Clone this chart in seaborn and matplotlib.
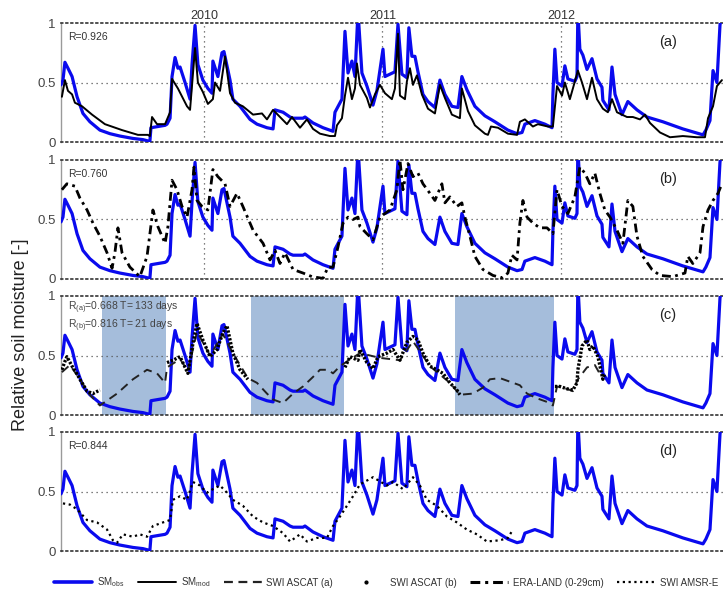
import numpy as np
import pandas as pd
import matplotlib
matplotlib.use("Agg")
import matplotlib.pyplot as plt
from matplotlib.lines import Line2D
import seaborn as sns

sns.set_theme(style="white")
plt.rcParams["font.family"] = ["Liberation Sans", "DejaVu Sans"]

# ---------------------------------------------------------------- data
years = [2010, 2011, 2012]

# observed relative soil moisture (decimal year, value)
t_obs = [2009.199, 2009.210, 2009.221, 2009.238, 2009.261, 2009.289, 2009.322, 2009.361, 2009.417, 2009.473,
         2009.529, 2009.602, 2009.658, 2009.697, 2009.703, 2009.742, 2009.782, 2009.793, 2009.810, 2009.821,
         2009.838, 2009.854, 2009.866, 2009.894, 2009.922, 2009.933, 2009.950, 2009.966, 2009.994, 2010.022,
         2010.045, 2010.050, 2010.078, 2010.101, 2010.112, 2010.146, 2010.162, 2010.202, 2010.258, 2010.297,
         2010.353, 2010.387, 2010.398, 2010.443, 2010.482, 2010.499, 2010.555, 2010.566, 2010.611, 2010.667,
         2010.723, 2010.734, 2010.773, 2010.790, 2010.807, 2010.829, 2010.846, 2010.863, 2010.885, 2010.913,
         2010.947, 2010.969, 2011.003, 2011.014, 2011.042, 2011.070, 2011.087, 2011.109, 2011.137, 2011.148,
         2011.165, 2011.182, 2011.199, 2011.227, 2011.255, 2011.294, 2011.322, 2011.350, 2011.389, 2011.423,
         2011.445, 2011.473, 2011.518, 2011.574, 2011.630, 2011.703, 2011.754, 2011.782, 2011.798, 2011.854,
         2011.910, 2011.950, 2011.955, 2011.966, 2011.978, 2012.006, 2012.022, 2012.039, 2012.078, 2012.090,
         2012.095, 2012.106, 2012.123, 2012.146, 2012.174, 2012.202, 2012.230, 2012.235, 2012.269, 2012.286,
         2012.303, 2012.342, 2012.375, 2012.426, 2012.482, 2012.571, 2012.683, 2012.796, 2012.812, 2012.835,
         2012.852, 2012.874, 2012.891, 2012.902]
sm_obs = [0.48, 0.52, 0.67, 0.62, 0.55, 0.38, 0.24, 0.17, 0.10, 0.07,
          0.05, 0.03, 0.02, 0.005, 0.12, 0.13, 0.14, 0.15, 0.20, 0.55,
          0.71, 0.62, 0.63, 0.50, 0.36, 0.65, 0.98, 0.65, 0.52, 0.45,
          0.41, 0.68, 0.55, 0.75, 0.76, 0.52, 0.36, 0.30, 0.19, 0.15,
          0.12, 0.11, 0.27, 0.25, 0.21, 0.20, 0.20, 0.21, 0.16, 0.12,
          0.09, 0.25, 0.36, 0.93, 0.58, 0.68, 0.55, 1.10, 0.58, 0.47,
          0.31, 0.43, 0.78, 0.55, 0.57, 0.59, 0.99, 0.57, 0.54, 0.96,
          0.72, 0.72, 0.59, 0.40, 0.34, 0.29, 0.52, 0.40, 0.30, 0.29,
          0.55, 0.44, 0.30, 0.22, 0.17, 0.10, 0.07, 0.08, 0.15, 0.18,
          0.15, 0.12, 0.40, 0.78, 0.50, 0.47, 0.64, 0.53, 0.51, 0.55,
          1.10, 0.78, 0.73, 0.61, 0.70, 0.53, 0.46, 0.35, 0.27, 0.63,
          0.40, 0.23, 0.34, 0.27, 0.21, 0.17, 0.11, 0.06, 0.10, 0.18,
          0.60, 0.50, 0.98, 1.10]

# modelled soil moisture
t_mod = [2009.204, 2009.221, 2009.238, 2009.261, 2009.277, 2009.317, 2009.373, 2009.445, 2009.541, 2009.630,
         2009.686, 2009.697, 2009.709, 2009.737, 2009.782, 2009.810, 2009.821, 2009.854, 2009.905, 2009.922,
         2009.950, 2009.966, 2009.994, 2010.022, 2010.050, 2010.062, 2010.090, 2010.118, 2010.146, 2010.174,
         2010.218, 2010.275, 2010.325, 2010.353, 2010.387, 2010.426, 2010.465, 2010.493, 2010.538, 2010.577,
         2010.611, 2010.650, 2010.706, 2010.734, 2010.745, 2010.773, 2010.790, 2010.807, 2010.829, 2010.846,
         2010.857, 2010.874, 2010.913, 2010.930, 2010.958, 2010.986, 2011.014, 2011.053, 2011.070, 2011.087,
         2011.098, 2011.126, 2011.137, 2011.154, 2011.171, 2011.193, 2011.221, 2011.255, 2011.294, 2011.322,
         2011.350, 2011.389, 2011.434, 2011.445, 2011.479, 2011.518, 2011.574, 2011.591, 2011.608, 2011.647,
         2011.703, 2011.754, 2011.770, 2011.798, 2011.843, 2011.871, 2011.927, 2011.955, 2011.978, 2012.006,
         2012.022, 2012.050, 2012.067, 2012.095, 2012.118, 2012.146, 2012.174, 2012.202, 2012.235, 2012.263,
         2012.286, 2012.314, 2012.370, 2012.403, 2012.443, 2012.471, 2012.499, 2012.555, 2012.611, 2012.683,
         2012.762, 2012.807, 2012.824, 2012.852, 2012.874, 2012.902]
sm_mod = [0.38, 0.52, 0.43, 0.40, 0.33, 0.30, 0.23, 0.15, 0.10, 0.06,
          0.06, 0.05, 0.21, 0.15, 0.15, 0.25, 0.53, 0.45, 0.30, 0.27,
          0.79, 0.50, 0.42, 0.32, 0.36, 0.50, 0.43, 0.72, 0.41, 0.33,
          0.30, 0.23, 0.24, 0.19, 0.27, 0.21, 0.15, 0.21, 0.12, 0.19,
          0.11, 0.07, 0.05, 0.05, 0.14, 0.20, 0.39, 0.54, 0.36, 0.45,
          0.66, 0.48, 0.37, 0.29, 0.40, 0.48, 0.41, 0.36, 0.45, 0.91,
          0.39, 0.36, 0.51, 0.62, 0.48, 0.56, 0.40, 0.28, 0.24, 0.48,
          0.37, 0.23, 0.20, 0.45, 0.26, 0.14, 0.07, 0.06, 0.13, 0.12,
          0.07, 0.06, 0.17, 0.19, 0.13, 0.15, 0.13, 0.13, 0.47, 0.39,
          0.50, 0.36, 0.45, 0.60, 0.50, 0.36, 0.54, 0.36, 0.28, 0.25,
          0.36, 0.25, 0.21, 0.21, 0.19, 0.23, 0.16, 0.08, 0.04, 0.05,
          0.04, 0.04, 0.20, 0.30, 0.47, 0.52]

# ERA-LAND top layer (0-29 cm)
t_era = [2009.204, 2009.232, 2009.277, 2009.305, 2009.345, 2009.378, 2009.417, 2009.457, 2009.485, 2009.501,
         2009.518, 2009.541, 2009.585, 2009.641, 2009.681, 2009.714, 2009.742, 2009.782, 2009.798, 2009.821,
         2009.849, 2009.877, 2009.905, 2009.933, 2009.944, 2009.961, 2009.989, 2010.022, 2010.050, 2010.078,
         2010.118, 2010.146, 2010.185, 2010.218, 2010.275, 2010.331, 2010.370, 2010.398, 2010.426, 2010.454,
         2010.499, 2010.555, 2010.605, 2010.667, 2010.695, 2010.723, 2010.751, 2010.779, 2010.807, 2010.835,
         2010.863, 2010.874, 2010.913, 2010.947, 2010.986, 2011.042, 2011.081, 2011.098, 2011.115, 2011.143,
         2011.171, 2011.199, 2011.227, 2011.266, 2011.294, 2011.333, 2011.350, 2011.378, 2011.417, 2011.445,
         2011.462, 2011.490, 2011.518, 2011.563, 2011.619, 2011.669, 2011.703, 2011.725, 2011.754, 2011.770,
         2011.787, 2011.810, 2011.843, 2011.882, 2011.922, 2011.955, 2011.978, 2012.006, 2012.039, 2012.078,
         2012.106, 2012.134, 2012.162, 2012.190, 2012.218, 2012.246, 2012.275, 2012.314, 2012.347, 2012.375,
         2012.403, 2012.426, 2012.459, 2012.510, 2012.555, 2012.627, 2012.695, 2012.711, 2012.739, 2012.779,
         2012.796, 2012.824, 2012.852, 2012.880, 2012.902]
sm_era = [0.75, 0.80, 0.78, 0.68, 0.58, 0.47, 0.36, 0.22, 0.09, 0.22,
          0.43, 0.22, 0.10, 0.02, 0.19, 0.58, 0.44, 0.30, 0.44, 0.83,
          0.75, 0.61, 0.52, 0.75, 0.94, 0.66, 0.61, 0.58, 0.92, 0.86,
          0.80, 0.61, 0.72, 0.61, 0.41, 0.30, 0.16, 0.24, 0.13, 0.22,
          0.08, 0.05, 0.02, 0.005, 0.10, 0.10, 0.27, 0.47, 0.52, 0.50,
          0.52, 0.44, 0.38, 0.33, 0.52, 0.58, 0.75, 1.00, 0.75, 0.97,
          0.86, 0.89, 0.80, 0.72, 0.66, 0.80, 0.64, 0.69, 0.61, 0.64,
          0.52, 0.36, 0.19, 0.08, 0.03, 0.01, 0.05, 0.20, 0.16, 0.47,
          0.66, 0.52, 0.47, 0.43, 0.43, 0.38, 0.75, 0.61, 0.55, 0.69,
          0.94, 0.89, 0.80, 0.89, 0.72, 0.58, 0.52, 0.41, 0.30, 0.66,
          0.61, 0.36, 0.19, 0.08, 0.03, 0.02, 0.05, 0.19, 0.13, 0.22,
          0.44, 0.58, 0.66, 0.72, 0.80]

# ASCAT soil water index, T = 133 days
t_ascat_a = [2009.204, 2009.249, 2009.305, 2009.361, 2009.417, 2009.513, 2009.602, 2009.681, 2009.737, 2009.782,
             2009.793, 2009.866, 2009.910, 2009.961, 2010.034, 2010.106, 2010.162, 2010.246, 2010.297, 2010.353,
             2010.387, 2010.443, 2010.499, 2010.555, 2010.611, 2010.650, 2010.695, 2010.723, 2010.762, 2010.801,
             2010.874, 2010.986, 2011.098, 2011.171, 2011.266, 2011.378, 2011.434, 2011.507, 2011.563, 2011.602,
             2011.658, 2011.714, 2011.770, 2011.810, 2011.866, 2011.922, 2011.955, 2011.978, 2012.034, 2012.067,
             2012.095, 2012.146, 2012.190, 2012.235]
swi_ascat_a = [0.36, 0.42, 0.30, 0.17, 0.08, 0.18, 0.30, 0.38, 0.35, 0.27,
               0.40, 0.47, 0.37, 0.70, 0.50, 0.68, 0.52, 0.31, 0.27, 0.18,
               0.13, 0.10, 0.18, 0.24, 0.32, 0.38, 0.38, 0.35, 0.41, 0.45,
               0.52, 0.48, 0.46, 0.62, 0.41, 0.27, 0.17, 0.18, 0.23, 0.30,
               0.31, 0.28, 0.25, 0.18, 0.14, 0.11, 0.08, 0.24, 0.22, 0.20,
               0.30, 0.40, 0.42, 0.30]

# ASCAT soil water index, T = 21 days (None = no retrieval)
t_ascat_b = [2009.204, 2009.221, 2009.232, 2009.261, 2009.283, 2009.305, 2009.345, 2009.378, 2009.417, None,
             2009.793, 2009.826, 2009.866, 2009.910, 2009.938, 2009.961, 2009.994, 2010.034, 2010.073, 2010.106,
             2010.129, 2010.162, 2010.202, 2010.246, None,
             2010.790, 2010.818, 2010.863, 2010.874, 2010.913, 2010.947, 2010.975, 2011.025, 2011.059, 2011.098,
             2011.137, 2011.171, 2011.199, 2011.227, 2011.266, 2011.305, 2011.339, 2011.378, 2011.417, 2011.434,
             None,
             2011.966, 2011.994, 2012.034, 2012.067, 2012.090, 2012.095, 2012.118, 2012.146, 2012.162, 2012.179,
             2012.207, 2012.235, 2012.246]
swi_ascat_b = [0.38, 0.45, 0.49, 0.41, 0.36, 0.30, 0.20, 0.18, 0.21, None,
               0.44, 0.46, 0.49, 0.35, 0.60, 0.77, 0.63, 0.49, 0.55, 0.69,
               0.75, 0.52, 0.38, 0.30, None,
               0.40, 0.49, 0.46, 0.55, 0.44, 0.39, 0.49, 0.52, 0.55, 0.46,
               0.61, 0.66, 0.63, 0.52, 0.41, 0.38, 0.35, 0.27, 0.21, 0.17,
               None,
               0.24, 0.24, 0.22, 0.21, 0.27, 0.38, 0.58, 0.63, 0.55, 0.58,
               0.49, 0.30, 0.35]

# AMSR-E soil water index
t_amsr = [2009.210, 2009.249, 2009.289, 2009.345, 2009.401, 2009.457, 2009.490, 2009.513, 2009.546, 2009.602,
          2009.641, 2009.681, 2009.714, 2009.770, 2009.810, 2009.826, 2009.866, 2009.905, 2009.938, 2009.978,
          2010.017, 2010.050, 2010.090, 2010.129, 2010.162, 2010.218, 2010.275, 2010.331, 2010.387, 2010.443,
          2010.482, 2010.538, 2010.577, 2010.633, 2010.689, 2010.723, 2010.762, 2010.801, 2010.835, 2010.874,
          2010.947, 2011.025, 2011.059, 2011.115, 2011.171, 2011.210, 2011.249, 2011.305, 2011.361, 2011.417,
          2011.473, 2011.529, 2011.585, 2011.658, 2011.703, 2011.731]
swi_amsr = [0.40, 0.39, 0.35, 0.26, 0.24, 0.18, 0.09, 0.07, 0.14, 0.12,
            0.14, 0.12, 0.21, 0.24, 0.26, 0.43, 0.46, 0.43, 0.58, 0.55,
            0.49, 0.52, 0.55, 0.49, 0.43, 0.38, 0.29, 0.24, 0.21, 0.15,
            0.08, 0.14, 0.08, 0.11, 0.11, 0.21, 0.29, 0.38, 0.46, 0.56,
            0.62, 0.55, 0.58, 0.52, 0.62, 0.55, 0.43, 0.38, 0.29, 0.24,
            0.18, 0.14, 0.08, 0.09, 0.11, 0.18]

# periods highlighted in panel (c)
gap_start = [2009.429, 2010.263, 2011.406]
gap_end = [2009.787, 2010.784, 2011.961]

r_text = ["R=0.926", "R=0.760", None, "R=0.844"]
panel_tags = ["(a)", "(b)", "(c)", "(d)"]

# ---------------------------------------------------------------- styles
BLUE = "#0a0aee"
ERA_DASH = (0, (3.2, 1.6, 1.0, 1.6))
ASCAT_A_DASH = (0, (4.5, 3.0))
ASCAT_B_DASH = (0, (0.7, 0.5))
AMSR_DOT = (0, (1.0, 1.6))
GRID = "#555555"

fig = plt.figure(figsize=(7.23, 5.89), dpi=100)
left, width, height = 61 / 723, 662 / 723, 119 / 589
bottoms = [1 - 142 / 589, 1 - 279 / 589, 1 - 415 / 589, 1 - 551 / 589]
axes = [fig.add_axes([left, b, width, height]) for b in bottoms]
ax_a, ax_b, ax_c, ax_d = axes


def draw(ax, t, v, **kw):
    df = pd.DataFrame({"t": pd.to_numeric(pd.Series(t), errors="coerce"),
                       "v": pd.to_numeric(pd.Series(v), errors="coerce")})
    df["seg"] = df["v"].isna().cumsum()
    df = df.dropna()
    sns.lineplot(data=df, x="t", y="v", units="seg", estimator=None,
                 sort=False, ax=ax, **kw)


# (a) observed vs modelled
draw(ax_a, t_obs, sm_obs, color=BLUE, lw=2.3, zorder=3)
draw(ax_a, t_mod, sm_mod, color="black", lw=1.4, zorder=4)

# (b) observed vs ERA-LAND
draw(ax_b, t_obs, sm_obs, color=BLUE, lw=2.3, zorder=3)
draw(ax_b, t_era, sm_era, color="black", lw=2.0, linestyle=ERA_DASH, zorder=4)

# (c) observed vs ASCAT SWI
for s0, s1 in zip(gap_start, gap_end):
    ax_c.axvspan(s0, s1, color="#a5bddb", lw=0, zorder=0)
draw(ax_c, t_obs, sm_obs, color=BLUE, lw=2.3, zorder=3)
draw(ax_c, t_ascat_a, swi_ascat_a, color="#222222", lw=1.4, linestyle=ASCAT_A_DASH, zorder=4)
draw(ax_c, t_ascat_b, swi_ascat_b, color="black", lw=2.4, linestyle=ASCAT_B_DASH, zorder=5)
ax_c.text(0.011, 0.90, r"R$_\mathregular{(a)}$=0.668 T= 133 days", transform=ax_c.transAxes,
          ha="left", va="center", fontsize=7.5, color="#444444", zorder=6)
ax_c.text(0.011, 0.75, r"R$_\mathregular{(b)}$=0.816 T= 21 days", transform=ax_c.transAxes,
          ha="left", va="center", fontsize=7.5, color="#444444", zorder=6)

# (d) observed vs AMSR-E
draw(ax_d, t_obs, sm_obs, color=BLUE, lw=2.3, zorder=3)
draw(ax_d, t_amsr, swi_amsr, color="black", lw=1.6, linestyle=AMSR_DOT, zorder=4)

# common axis styling (after drawing so seaborn's labels are replaced)
for i, ax in enumerate(axes):
    ax.set_xlim(2009.199, 2012.908)
    ax.set_ylim(0, 1)
    ax.set_yticks([0, 0.5, 1])
    ax.set_yticklabels(["0", "0.5", "1"])
    ax.tick_params(axis="y", length=0, pad=4, labelsize=9.5, labelcolor="#444444")
    ax.set_xticks(years)
    ax.tick_params(axis="x", length=0)
    ax.spines["right"].set_visible(False)
    ax.spines["left"].set_color("#9a9a9a")
    ax.spines["left"].set_linewidth(1.0)
    for s in ("top", "bottom"):
        ax.spines[s].set_linestyle((0, (1, 2)))
        ax.spines[s].set_color("#333333")
        ax.spines[s].set_linewidth(1.2)
    ax.axhline(0.5, color=GRID, ls=(0, (1, 3)), lw=0.9, zorder=1)
    if i < 2:
        ax.grid(axis="x", color=GRID, ls=(0, (1, 3)), lw=0.9)
    else:
        ax.grid(False)
    if i == 0:
        ax.tick_params(axis="x", top=True, labeltop=True, bottom=False,
                       labelbottom=False, pad=1, labelsize=9, labelcolor="#333333")
    else:
        ax.set_xticklabels([])
    ax.set_xlabel("")
    ax.set_ylabel("")
    ax.text(0.917, 0.84, panel_tags[i], transform=ax.transAxes, ha="center",
            va="center", fontsize=10.5, color="#222222")
    if r_text[i]:
        ax.text(0.011, 0.885, r_text[i], transform=ax.transAxes, ha="left",
                va="center", fontsize=7.5, color="#333333")

fig.text(0.028, 0.431, "Relative soil moisture [-]", rotation=90, ha="center",
         va="center", fontsize=13, color="#222222")

handles = [
    Line2D([], [], color=BLUE, lw=2.6),
    Line2D([], [], color="black", lw=1.4),
    Line2D([], [], color="#222222", lw=1.6, linestyle=(0, (4.0, 2.5))),
    Line2D([], [], color="black", ls="none", marker=".", markersize=4),
    Line2D([], [], color="black", lw=2.2, linestyle=ERA_DASH),
    Line2D([], [], color="black", lw=1.6, linestyle=AMSR_DOT),
]
labels = [r"SM$_\mathregular{obs}$", r"SM$_\mathregular{mod}$", "SWI ASCAT (a)",
          "SWI ASCAT (b)", "ERA-LAND (0-29cm)", "SWI AMSR-E"]
leg = fig.legend(handles, labels, loc="center", bbox_to_anchor=(0.534, 0.011), ncol=6,
                 frameon=False, fontsize=7, handlelength=3.9, handletextpad=0.5,
                 columnspacing=1.4, borderpad=0, borderaxespad=0)
for txt in leg.get_texts():
    txt.set_color("#333333")

fig.savefig("out.png", dpi=100)
